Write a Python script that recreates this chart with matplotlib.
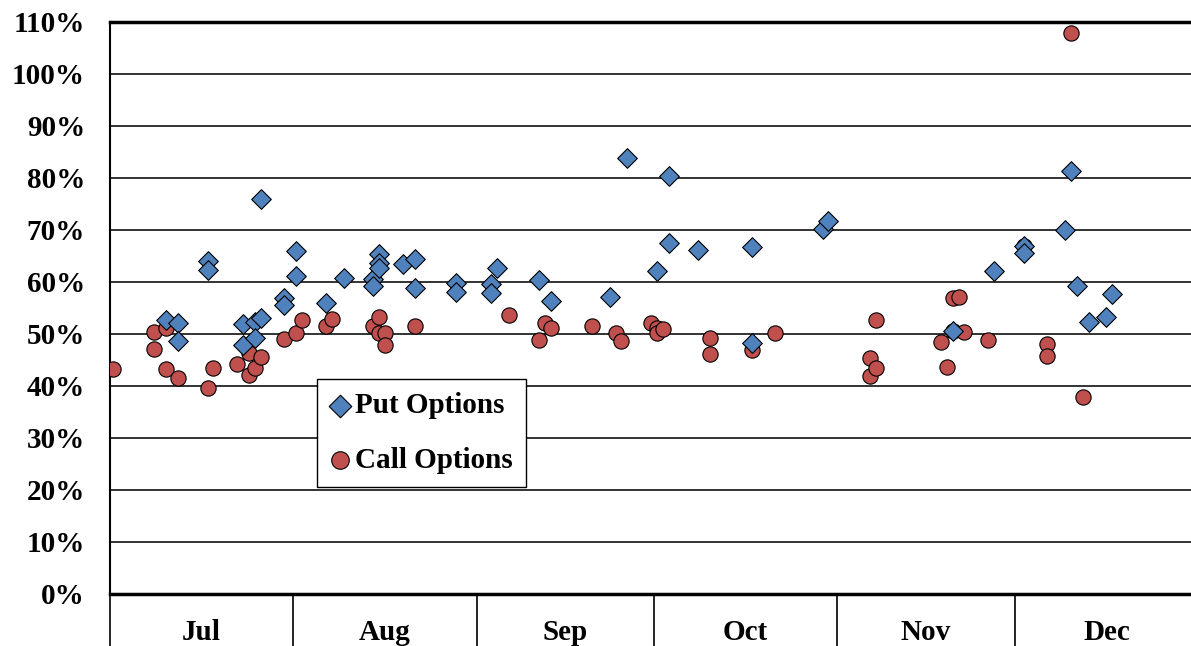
import numpy as np
import matplotlib
matplotlib.use("Agg")
import matplotlib.pyplot as plt
from matplotlib.ticker import FixedLocator, NullFormatter, FixedFormatter

# dates (2010 assumed) and implied volatility in %
put_dates = ["07-10", "07-12", "07-12", "07-17", "07-17", "07-23", "07-23", "07-25",
             "07-25", "07-26", "07-26", "07-30", "07-30", "08-01", "08-01", "08-06",
             "08-09", "08-14", "08-14", "08-15", "08-15", "08-15", "08-19", "08-21",
             "08-21", "08-28", "08-28", "09-03", "09-03", "09-04", "09-11", "09-13",
             "09-23", "09-26", "10-01", "10-03", "10-03", "10-08", "10-17", "10-17",
             "10-29", "10-30", "11-20", "11-27", "12-02", "12-02", "12-09", "12-10",
             "12-11", "12-13", "12-16", "12-17"]
put_vals = [52.7, 52.2, 48.7, 64.1, 62.4, 51.9, 47.8, 52.4,
            49.2, 53.1, 76.0, 56.9, 55.6, 65.9, 61.2, 55.9,
            60.7, 60.5, 59.3, 65.4, 63.6, 62.6, 63.5, 64.5,
            58.8, 59.9, 58.1, 59.6, 57.9, 62.6, 60.3, 56.4,
            57.1, 83.8, 62.1, 80.4, 67.5, 66.1, 66.7, 48.2,
            70.2, 71.7, 50.6, 62.2, 67.0, 65.5, 70.0, 81.3,
            59.2, 52.4, 53.2, 57.7]

call_dates = ["07-01", "07-08", "07-08", "07-10", "07-10", "07-12", "07-17", "07-18",
              "07-22", "07-24", "07-24", "07-25", "07-26", "07-30", "08-01", "08-02",
              "08-06", "08-07", "08-14", "08-15", "08-15", "08-16", "08-16", "08-21",
              "09-06", "09-11", "09-12", "09-13", "09-20", "09-24", "09-25", "09-30",
              "10-01", "10-01", "10-02", "10-10", "10-10", "10-17", "10-21", "11-06",
              "11-06", "11-07", "11-07", "11-18", "11-19", "11-20", "11-20", "11-21",
              "11-22", "11-26", "12-02", "12-06", "12-06", "12-10", "12-12"]
call_vals = [43.2, 50.3, 47.2, 51.2, 43.2, 41.6, 39.6, 43.4,
             44.2, 46.4, 42.1, 43.4, 45.6, 49.0, 50.1, 52.7,
             51.5, 52.9, 51.5, 53.3, 50.1, 50.1, 47.8, 51.5,
             53.6, 48.8, 52.1, 51.1, 51.5, 50.1, 48.7, 52.2,
             51.1, 50.1, 51.0, 49.3, 46.1, 46.9, 50.1, 45.3,
             41.9, 52.6, 43.4, 48.5, 43.7, 56.9, 50.6, 57.2,
             50.3, 48.8, 67.0, 48.0, 45.8, 107.9, 37.8]

months = ["Jul", "Aug", "Sep", "Oct", "Nov", "Dec"]
year = "2010"

start = np.datetime64(year + "-07-01")
month_starts = np.arange(np.datetime64(year + "-07"), np.datetime64(year + "-12") + 2,
                         dtype="datetime64[M]").astype("datetime64[D]")
bounds = (month_starts - start).astype(float)


def to_x(dates):
    d = np.array([np.datetime64(year + "-" + s) for s in dates])
    return (d - start).astype(float) + 0.5


plt.rcParams['font.family'] = ['Liberation Serif', 'DejaVu Serif']
plt.rcParams['font.weight'] = 'bold'

fig = plt.figure(figsize=(11.91, 6.46), dpi=100)
ax = fig.add_axes([110 / 1191, 52 / 646, 1088 / 1191, 572 / 646])

ax.scatter(to_x(call_dates), call_vals, marker="o", s=11 ** 2, color="#C0504D",
           edgecolor="black", linewidth=0.8, zorder=3, label="Call Options")
ax.scatter(to_x(put_dates), put_vals, marker="D", s=10 ** 2, color="#4F81BD",
           edgecolor="black", linewidth=0.8, zorder=4, label="Put Options")

ax.set_xlim(bounds[0], bounds[-1])
ax.set_ylim(0, 110)
yt = np.arange(0, 111, 10)
ax.set_yticks(yt)
ax.set_yticklabels([f"{v}%" for v in yt], fontsize=21, fontweight="bold")
ax.tick_params(axis="y", length=0, pad=18)
for v in yt[1:-1]:
    ax.axhline(v, color="#333333", lw=1.4, zorder=1)

ax.xaxis.set_major_locator(FixedLocator(bounds[:-1]))
ax.xaxis.set_major_formatter(NullFormatter())
ax.xaxis.set_minor_locator(FixedLocator((bounds[:-1] + bounds[1:]) / 2))
ax.xaxis.set_minor_formatter(FixedFormatter(months))
ax.tick_params(axis="x", which="major", length=40, width=1.2, direction="out", color="black")
ax.tick_params(axis="x", which="minor", length=0, pad=18, labelsize=21)
for lab in ax.xaxis.get_minorticklabels():
    lab.set_fontweight("bold")

for side in ["top", "bottom"]:
    ax.spines[side].set_linewidth(2.5)
ax.spines["left"].set_linewidth(1.5)
ax.spines["right"].set_visible(False)

handles, labels = ax.get_legend_handles_labels()
leg = ax.legend(handles[::-1], labels[::-1], loc="lower left",
                bbox_to_anchor=((317 - 110) / 1088, (594 - 487) / 572),
                frameon=True, fancybox=False, shadow=False, borderaxespad=0,
                prop={"size": 21, "weight": "bold"}, handlelength=0.7,
                handletextpad=0.15, labelspacing=0.95, borderpad=0.45,
                markerscale=1.15, framealpha=1)
leg.get_frame().set_edgecolor("black")
leg.get_frame().set_linewidth(1.0)
leg.set_zorder(5)

fig.savefig("out.png", dpi=100)
